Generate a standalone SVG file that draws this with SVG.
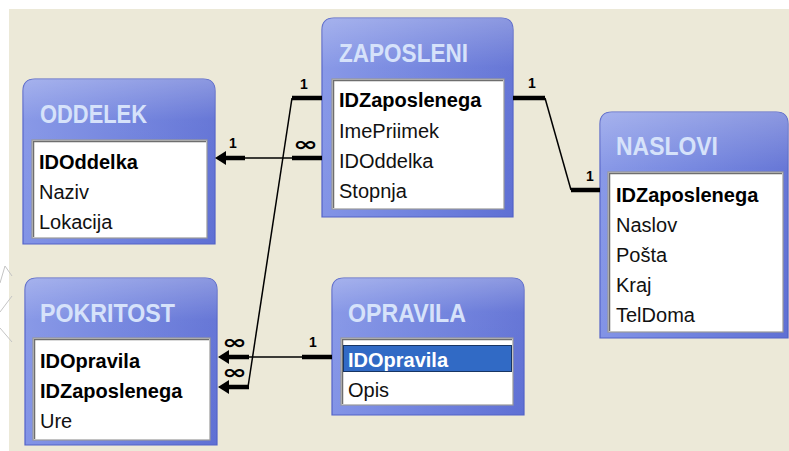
<svg xmlns="http://www.w3.org/2000/svg" width="789" height="451" viewBox="0 0 789 451">
  <defs>
    <linearGradient id="frameFill" x1="0" y1="0" x2="1" y2="0">
      <stop offset="0" stop-color="#8394E6"/>
      <stop offset="0.5" stop-color="#7082DE"/>
      <stop offset="1" stop-color="#5F70D4"/>
    </linearGradient>
    <linearGradient id="frameShine" x1="0" y1="0" x2="0" y2="1">
      <stop offset="0" stop-color="#FFFFFF" stop-opacity="0.28"/>
      <stop offset="0.25" stop-color="#FFFFFF" stop-opacity="0.05"/>
      <stop offset="1" stop-color="#FFFFFF" stop-opacity="0"/>
    </linearGradient>
    <marker id="arrow" viewBox="0 0 11 14" refX="3" refY="7" markerWidth="11" markerHeight="14" markerUnits="userSpaceOnUse" orient="auto">
      <path d="M0,0 L11,7 L0,14 Z" fill="#000"/>
    </marker>
    <style>
      .frame { fill: url(#frameFill); stroke: #5262C8; stroke-width: 1.2; }
      .shine { fill: url(#frameShine); }
      .list { fill: #FFFFFF; stroke: #9A9A9A; stroke-width: 1.2; }
      .edge { stroke: #6E6E6E; stroke-width: 1.5; fill: none; }
      .title { font-family: "Liberation Sans", Arial, sans-serif; font-size: 25px; font-weight: bold; fill: #D6E2FA; }
      .field { font-family: "Liberation Sans", Arial, sans-serif; font-size: 20px; fill: #111; }
      .key { font-weight: bold; fill: #000; }
      .sel { fill: #FFFFFF; }
      .thin { stroke: #000; stroke-width: 1.5; fill: none; }
      .thick { stroke: #000; stroke-width: 4.5; fill: none; }
      .card { font-family: "Liberation Sans", Arial, sans-serif; font-size: 14px; font-weight: bold; fill: #000; text-anchor: middle; }
      .many { font-family: "DejaVu Sans", sans-serif; font-size: 20px; font-weight: bold; fill: #000; }
      .scratch { stroke: #C4C4C4; stroke-width: 1; fill: none; }
    </style>
  </defs>

  <!-- window background with white margin at top and left -->
  <rect x="0" y="0" width="789" height="451" fill="#FFFFFF"/>
  <rect x="9" y="9" width="780" height="442" fill="#ECE9D8"/>
  <path class="scratch" d="M0,283 L5,266 L12,276 M12,296 L0,312 M0,328 L12,342"/>

  <!-- ODDELEK -->
  <g id="oddelek">
    <path class="frame" d="M23,244 V91 Q23,79 35,79 H203 Q215,79 215,91 V244 Z"/>
    <path class="shine" d="M23,244 V91 Q23,79 35,79 H203 Q215,79 215,91 V244 Z"/>
    <text class="title" x="40" y="123" textLength="107" lengthAdjust="spacingAndGlyphs">ODDELEK</text>
    <rect class="list" x="32" y="140" width="175" height="98"/>
    <path class="edge" d="M33.5,237 V141.5 H206"/>
    <text class="field key" x="39" y="169">IDOddelka</text>
    <text class="field" x="39" y="199">Naziv</text>
    <text class="field" x="39" y="229">Lokacija</text>
  </g>

  <!-- ZAPOSLENI -->
  <g id="zaposleni">
    <path class="frame" d="M322,217 V30 Q322,18 334,18 H501 Q513,18 513,30 V217 Z"/>
    <path class="shine" d="M322,217 V30 Q322,18 334,18 H501 Q513,18 513,30 V217 Z"/>
    <text class="title" x="339" y="62" textLength="129" lengthAdjust="spacingAndGlyphs">ZAPOSLENI</text>
    <rect class="list" x="332" y="79" width="172" height="130"/>
    <path class="edge" d="M333.5,208 V80.5 H503"/>
    <text class="field key" x="339" y="107">IDZaposlenega</text>
    <text class="field" x="339" y="137.5">ImePriimek</text>
    <text class="field" x="339" y="168">IDOddelka</text>
    <text class="field" x="339" y="198">Stopnja</text>
  </g>

  <!-- NASLOVI -->
  <g id="naslovi">
    <path class="frame" d="M600,338 V124 Q600,112 612,112 H776 Q788,112 788,124 V338 Z"/>
    <path class="shine" d="M600,338 V124 Q600,112 612,112 H776 Q788,112 788,124 V338 Z"/>
    <text class="title" x="616" y="155" textLength="102" lengthAdjust="spacingAndGlyphs">NASLOVI</text>
    <rect class="list" x="608" y="172" width="175" height="160"/>
    <path class="edge" d="M609.5,331 V173.5 H782"/>
    <text class="field key" x="616" y="202">IDZaposlenega</text>
    <text class="field" x="616" y="232">Naslov</text>
    <text class="field" x="616" y="262">Pošta</text>
    <text class="field" x="616" y="292">Kraj</text>
    <text class="field" x="616" y="322">TelDoma</text>
  </g>

  <!-- POKRITOST -->
  <g id="pokritost">
    <path class="frame" d="M25,445 V290 Q25,278 37,278 H205 Q217,278 217,290 V445 Z"/>
    <path class="shine" d="M25,445 V290 Q25,278 37,278 H205 Q217,278 217,290 V445 Z"/>
    <text class="title" x="40" y="322" textLength="135" lengthAdjust="spacingAndGlyphs">POKRITOST</text>
    <rect class="list" x="33" y="338" width="177" height="102"/>
    <path class="edge" d="M34.5,439 V339.5 H209"/>
    <text class="field key" x="40" y="368">IDOpravila</text>
    <text class="field key" x="40" y="398">IDZaposlenega</text>
    <text class="field" x="40" y="428">Ure</text>
  </g>

  <!-- OPRAVILA -->
  <g id="opravila">
    <path class="frame" d="M332,415 V290 Q332,278 344,278 H512 Q524,278 524,290 V415 Z"/>
    <path class="shine" d="M332,415 V290 Q332,278 344,278 H512 Q524,278 524,290 V415 Z"/>
    <text class="title" x="348" y="322" textLength="118" lengthAdjust="spacingAndGlyphs">OPRAVILA</text>
    <rect class="list" x="341" y="338" width="172" height="67"/>
    <path class="edge" d="M342.5,404 V339.5 H512"/>
    <rect x="343" y="345" width="169" height="27" fill="#316AC5"/>
    <rect x="343.5" y="345.5" width="168" height="26" fill="none" stroke="#000" stroke-width="1" stroke-dasharray="1,1"/>
    <text class="field key sel" x="348" y="367">IDOpravila</text>
    <text class="field" x="348" y="397">Opis</text>
  </g>

  <!-- relationship lines -->
  <g id="connectors">
    <!-- ZAPOSLENI.IDOddelka to ODDELEK.IDOddelka -->
    <path class="thick" d="M322,158 H292"/>
    <path class="thin" d="M292,158 H245"/>
    <path class="thick" d="M245,158 H223" marker-end="url(#arrow)"/>
    <text class="card" x="233" y="148">1</text>
    <text class="many" x="293" y="151" textLength="25" lengthAdjust="spacingAndGlyphs">∞</text>

    <!-- ZAPOSLENI.IDZaposlenega to POKRITOST.IDZaposlenega -->
    <path class="thick" d="M322,98 H292"/>
    <path class="thin" d="M292,98 L248,387"/>
    <path class="thick" d="M249,387 H226" marker-end="url(#arrow)"/>
    <text class="card" x="304" y="89">1</text>
    <text class="many" x="222" y="379" textLength="25" lengthAdjust="spacingAndGlyphs">∞</text>

    <!-- OPRAVILA.IDOpravila to POKRITOST.IDOpravila -->
    <path class="thick" d="M332,357 H302"/>
    <path class="thin" d="M302,357 H248"/>
    <path class="thick" d="M249,357 H226" marker-end="url(#arrow)"/>
    <text class="card" x="313" y="347">1</text>
    <text class="many" x="222" y="349" textLength="25" lengthAdjust="spacingAndGlyphs">∞</text>

    <!-- ZAPOSLENI.IDZaposlenega to NASLOVI.IDZaposlenega -->
    <path class="thick" d="M513,98 H545"/>
    <path class="thin" d="M545,98 L571,190"/>
    <path class="thick" d="M571,190 H600"/>
    <text class="card" x="532" y="88">1</text>
    <text class="card" x="590" y="181">1</text>
  </g>
</svg>
